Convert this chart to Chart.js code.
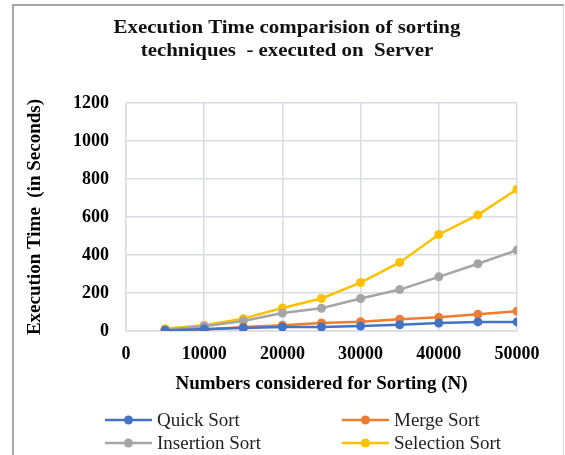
<!DOCTYPE html>
<html>
<head>
<meta charset="utf-8">
<script src="https://cdn.jsdelivr.net/npm/chart.js@4"></script>
<style>
  html, body { margin: 0; padding: 0; background: #fff; }
  #wrap { width: 565px; height: 455px; position: relative; }
</style>
</head>
<body>
<div id="wrap"><canvas id="chart" width="565" height="455"></canvas></div>
<script>
// sizes of the input (N)
const nValues = [5000, 10000, 15000, 20000, 25000, 30000, 35000, 40000, 45000, 50000];

// execution time in seconds
const quickSort = [3, 10, 16, 21, 21, 26, 33, 42, 48, 48];
const mergeSort = [4, 7, 21, 30, 42, 49, 62, 72, 88, 104];
const insertionSort = [7, 25, 53, 95, 120, 171, 218, 285, 354, 426];
const selectionSort = [12, 30, 65, 121, 171, 255, 361, 508, 611, 746];

const seriesNames = ['Quick Sort', 'Merge Sort', 'Insertion Sort', 'Selection Sort'];
const seriesColors = ['#4472C4', '#ED7D31', '#A5A5A5', '#FFC000'];
const seriesData = [quickSort, mergeSort, insertionSort, selectionSort];

const titleLines = ['Execution Time comparision of sorting', 'techniques  - executed on  Server'];
const xTitle = 'Numbers considered for Sorting (N)';
const yTitle = 'Execution Time  (in Seconds)';

const serif = "'Liberation Serif', 'Times New Roman', serif";
const gridColor = '#d9dce4';

const datasets = seriesData.map((vals, i) => ({
    label: seriesNames[i],
    data: vals.map((v, j) => ({ x: nValues[j], y: v })),
    borderColor: seriesColors[i],
    backgroundColor: seriesColors[i],
    borderWidth: 2.5,
    pointRadius: 4.5,
    pointBorderWidth: 0,
    tension: 0
}));

// outer frame like the pasted picture
const framePlugin = {
    id: 'frame',
    beforeDraw(chart) {
        const c = chart.ctx;
        c.save();
        c.fillStyle = '#fff';
        c.fillRect(0, 0, chart.width, chart.height);
        c.strokeStyle = '#a6a6a6';
        c.lineWidth = 2;
        c.beginPath();
        c.moveTo(13, 455);
        c.lineTo(13, 5);
        c.lineTo(564, 5);
        c.stroke();
        c.strokeStyle = '#dcdcdc';
        c.lineWidth = 1;
        c.beginPath();
        c.moveTo(563.5, 6);
        c.lineTo(563.5, 455);
        c.stroke();
        c.restore();
    }
};

// two line title (the original text is a bit stretched sideways)
const titlePlugin = {
    id: 'bigTitle',
    afterDraw(chart) {
        const c = chart.ctx;
        const baselines = [33, 56];
        titleLines.forEach((t, i) => {
            c.save();
            c.translate(287, baselines[i]);
            c.scale(1.1, 1);
            c.font = 'bold 19px ' + serif;
            c.fillStyle = '#111';
            c.textAlign = 'center';
            c.textBaseline = 'alphabetic';
            c.fillText(t, 0, 0);
            c.restore();
        });
    }
};

// two column legend at the bottom
const legendPlugin = {
    id: 'twoColLegend',
    afterDraw(chart) {
        const c = chart.ctx;
        const cols = [105, 342];
        const rows = [420, 443];
        c.save();
        c.font = '19px ' + serif;
        c.textBaseline = 'middle';
        chart.data.datasets.forEach((ds, i) => {
            const x = cols[i % 2];
            const y = rows[Math.floor(i / 2)];
            c.strokeStyle = ds.borderColor;
            c.lineWidth = 2.5;
            c.beginPath();
            c.moveTo(x, y);
            c.lineTo(x + 47, y);
            c.stroke();
            c.fillStyle = ds.backgroundColor;
            c.beginPath();
            c.arc(x + 23.5, y, 4.5, 0, Math.PI * 2);
            c.fill();
            c.fillStyle = '#222';
            c.fillText(ds.label, x + 52, y + 1);
        });
        c.restore();
    }
};

const ctx = document.getElementById('chart').getContext('2d');
const myChart = new Chart(ctx, {
    type: 'line',
    data: { datasets: datasets },
    options: {
        responsive: false,
        animation: false,
        layout: { padding: { left: 14, right: 48, top: 103, bottom: 60 } },
        plugins: {
            legend: { display: false },
            tooltip: { enabled: false },
            title: { display: false }
        },
        scales: {
            x: {
                type: 'linear',
                min: 0,
                max: 50000,
                ticks: {
                    stepSize: 10000,
                    color: '#000',
                    padding: 13,
                    maxRotation: 0,
                    font: { family: serif, size: 18, weight: 'bold' },
                    callback: (v) => String(v)
                },
                grid: { color: gridColor, lineWidth: 1.5, drawTicks: false },
                border: { color: gridColor, width: 1.5 },
                title: {
                    display: true,
                    text: xTitle,
                    color: '#000',
                    font: { family: serif, size: 19, weight: 'bold' },
                    padding: { top: 0, bottom: 0 }
                },
                afterFit(scale) { scale.height = 64; }
            },
            y: {
                min: 0,
                max: 1200,
                ticks: {
                    stepSize: 200,
                    color: '#000',
                    padding: 17,
                    font: { family: serif, size: 18, weight: 'bold' },
                    callback: (v) => String(v)
                },
                grid: { color: gridColor, lineWidth: 1.5, drawTicks: false },
                border: { color: gridColor, width: 1.5 },
                title: {
                    display: true,
                    text: yTitle,
                    color: '#000',
                    font: { family: serif, size: 19, weight: 'bold' },
                    padding: { top: 10, bottom: 0 }
                },
                afterFit(scale) { scale.width = 112; }
            }
        }
    },
    plugins: [framePlugin, titlePlugin, legendPlugin]
});
</script>
</body>
</html>
